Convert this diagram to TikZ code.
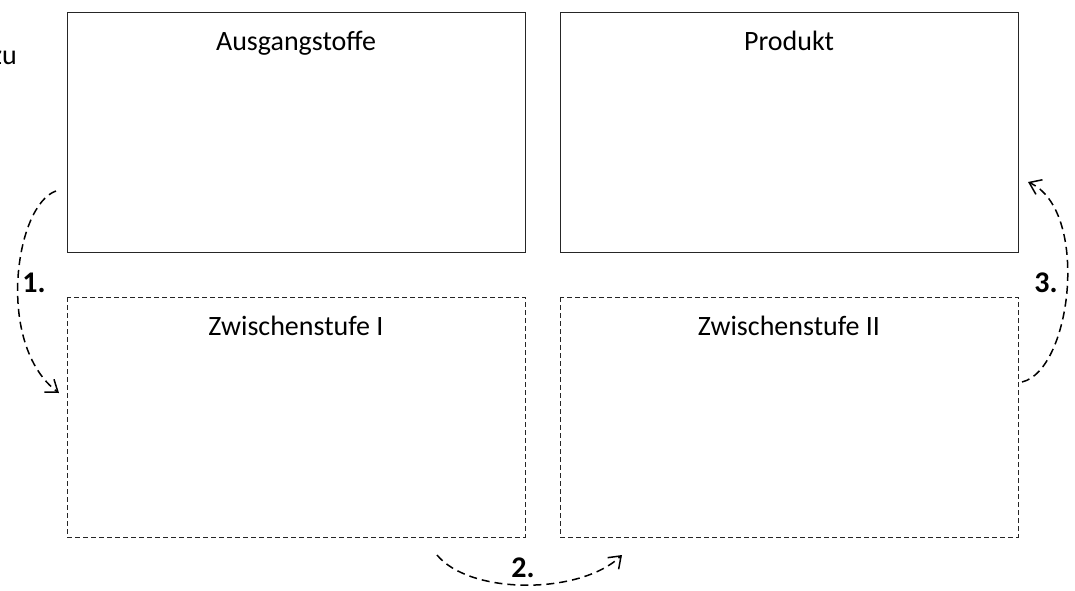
\documentclass[tikz,border=0pt]{standalone}
\usepackage{fontspec}
\setmainfont{Carlito}
\usetikzlibrary{arrows.meta}
\begin{document}
\begin{tikzpicture}[x=1pt,y=-1pt,
  box/.style={draw=black!85,line width=1pt},
  dbox/.style={draw=black!85,line width=1pt,dash pattern=on 5pt off 3pt},
  lbl/.style={font=\fontsize{28}{32}\selectfont,anchor=base},
  num/.style={font=\fontsize{30}{34}\selectfont\bfseries},
  arr/.style={line width=1.5pt,dash pattern=on 8pt off 5pt,-{Straight Barb[length=11pt,width=16pt,line width=1.5pt]}}]
\useasboundingbox (0,0) rectangle (1075,590);
% boxes
\draw[box] (67,12) rectangle (525,252);
\draw[box] (560,12) rectangle (1018,252);
\draw[dbox] (67,297) rectangle (525,537);
\draw[dbox] (560,297) rectangle (1018,537);
% labels
\node[lbl] (t1) at (296,50) {Ausgangstoffe};
\node[lbl] (t2) at (789,50) {Produkt};
\node[lbl] (t3) at (296,335) {Zwischenstufe I};
\node[lbl] (t4) at (789,335) {Zwischenstufe II};
\node[lbl,anchor=base east,inner sep=0pt] (zu) at (17,64) {zu};
% arrow coordinates
\coordinate (a1s) at (56,191);
\coordinate (a1e) at (59,393);
\coordinate (a2s) at (437,555);
\coordinate (a2e) at (622,555);
\coordinate (a3s) at (1022,382);
\coordinate (a3e) at (1028,182);
\draw[arr] (a1s) .. controls (15,205) and (-5,345) .. (a1e);
\draw[arr] (a2s) .. controls (470,595) and (580,595) .. (a2e);
\draw[arr] (a3s) .. controls (1072,370) and (1090,210) .. (a3e);
\node[num] (n1) at (34,283) {1.};
\node[num] (n2) at (523,568) {2.};
\node[num] (n3) at (1046,283) {3.};
\end{tikzpicture}
\end{document}
